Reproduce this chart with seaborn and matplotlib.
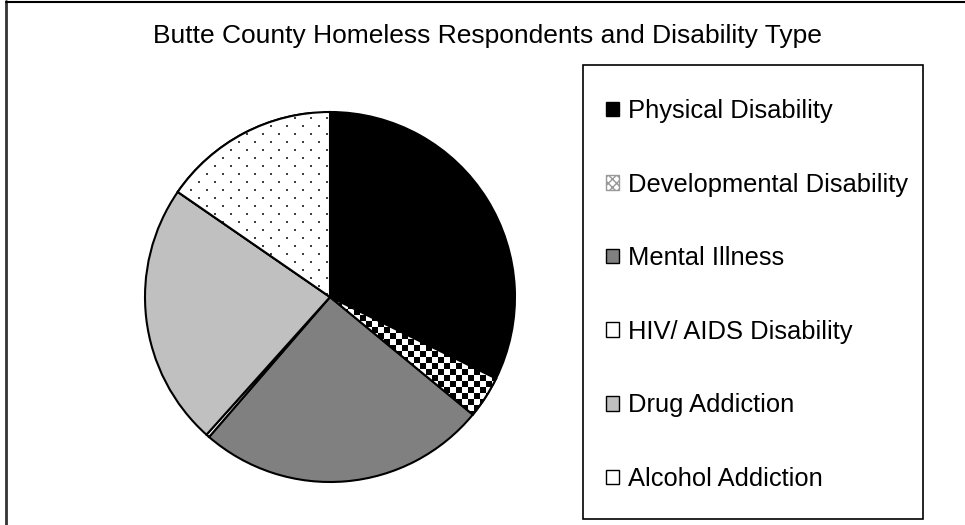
import numpy as np
import matplotlib
matplotlib.use('Agg')
import matplotlib.pyplot as plt
import seaborn as sns
from matplotlib.lines import Line2D
from matplotlib.patches import Patch, Rectangle, Wedge

sns.set_theme(style='white')
plt.rcParams['font.family'] = ['Liberation Sans', 'DejaVu Sans']
plt.rcParams['text.color'] = 'black'

# Disability types and their share of respondents (%)
categories = ['Physical Disability', 'Developmental Disability', 'Mental Illness',
              'HIV/ AIDS Disability', 'Drug Addiction', 'Alcohol Addiction']
shares = [32.3, 3.7, 25.4, 0.3, 23.0, 15.4]
fills = ['#000000', '#ffffff', '#808080', '#ffffff', '#c0c0c0', '#ffffff']

W, H = 965, 525
fig = plt.figure(figsize=(W / 100, H / 100), dpi=100)
fig.patch.set_facecolor('white')

# pie axes: centre ~(330, 297) px, radius ~185 px
cx, cy, r = 330, 297, 185
ax = fig.add_axes([(cx - r) / W, (H - cy - r) / H, 2 * r / W, 2 * r / H])

wedges, _ = ax.pie(shares, colors=fills, startangle=90, counterclock=False,
                   wedgeprops=dict(edgecolor='black', linewidth=1.5))

# textures for the patterned slices (clipped to their wedges)
n = int(2.2 * r)
yy, xx = np.mgrid[0:n, 0:n]
checker = ((xx // 6 + yy // 6) % 2).astype(float)
dots = np.ones((n, n))
row = yy // 8
on_row = (yy % 8) < 2
col_off = np.where(row % 2 == 0, 0, 8)
on_col = ((xx + col_off) % 16) < 2
dots[on_row & on_col] = 0.25

ext = [-1.1, 1.1, -1.1, 1.1]
for idx, tex in [(1, checker), (5, dots)]:
    im = ax.imshow(tex, cmap='gray', vmin=0, vmax=1, extent=ext,
                   interpolation='nearest', zorder=wedges[idx].get_zorder() + 0.1)
    im.set_clip_path(wedges[idx])
    # redraw outline above texture
    w = wedges[idx]
    ax.add_patch(Wedge(w.center, w.r, w.theta1, w.theta2, facecolor='none',
                       edgecolor='black', linewidth=1.5, zorder=im.get_zorder() + 0.1))

ax.set_xlim(-1, 1)
ax.set_ylim(-1, 1)
ax.set_axis_off()

# legend frame: x 583-923, y 65-519
fig.add_artist(Rectangle((583 / W, 1 - 519 / H), 340 / W, 454 / H,
                         transform=fig.transFigure, facecolor='white',
                         edgecolor='black', linewidth=1.2))

handles = [Patch(facecolor=c, edgecolor='black', linewidth=1) for c in fills]
handles[1] = Patch(facecolor='white', edgecolor='#999999', hatch='xxxx', linewidth=1)

leg = fig.legend(handles, categories, loc='upper left',
                 bbox_to_anchor=(606 / W, 1 - 99 / H),
                 fontsize=18.4, frameon=False, borderpad=0, labelspacing=1.94,
                 handlelength=0.5, handleheight=0.5, handletextpad=0.35,
                 borderaxespad=0)
for t in leg.get_texts():
    t.set_color('black')

fig.text(487 / W, 1 - 36 / H, 'Butte County Homeless Respondents and Disability Type',
         ha='center', va='center', fontsize=19, color='black')

# outer chart border (left and top edges visible)
fig.add_artist(Line2D([6 / W, 6 / W], [0, 1 - 1 / H], transform=fig.transFigure,
                      color='#333333', linewidth=2))
fig.add_artist(Line2D([6 / W, 1], [1 - 1.5 / H, 1 - 1.5 / H], transform=fig.transFigure,
                      color='black', linewidth=1.5))

fig.savefig('out.png', dpi=100, facecolor='white')
